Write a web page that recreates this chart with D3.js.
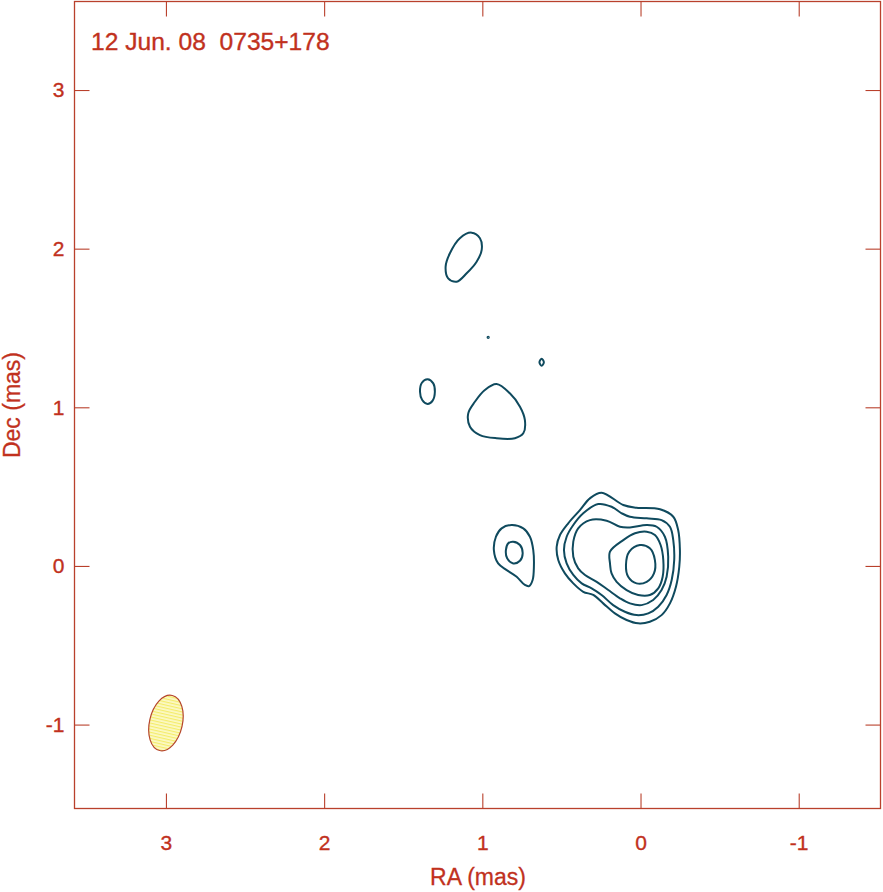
<!DOCTYPE html>
<html>
<head>
<meta charset="utf-8">
<script src="https://cdn.jsdelivr.net/npm/d3@7"></script>
<style>
  body { margin: 0; background: #fff; }
  text { font-family: "Liberation Sans", Arial, Helvetica, sans-serif; fill: #c1311d; }
</style>
</head>
<body>
<svg id="chart" width="883" height="892"></svg>
<script>
// ticks (mas)
var raTicks = [3, 2, 1, 0, -1]
var decTicks = [3, 2, 1, 0, -1]

// core contours, outer to inner, [RA, Dec] in mas
var core1 = [[0.246,0.462],[0.109,0.384],[0.025,0.367],[-0.123,0.357],[-0.207,0.310],[-0.238,0.226],[-0.249,0.100],[-0.245,-0.005],[-0.224,-0.131],[-0.186,-0.236],[-0.133,-0.310],[-0.059,-0.352],[0.015,-0.362],[0.088,-0.341],[0.162,-0.299],[0.236,-0.236],[0.299,-0.183],[0.362,-0.163],[0.425,-0.110],[0.478,-0.047],[0.520,0.037],[0.530,0.121],[0.509,0.195],[0.457,0.269],[0.383,0.352],[0.320,0.426]]
var core2 = [[0.267,0.390],[0.183,0.373],[0.119,0.332],[0.067,0.310],[-0.039,0.300],[-0.133,0.289],[-0.186,0.247],[-0.207,0.163],[-0.213,0.037],[-0.197,-0.089],[-0.165,-0.183],[-0.112,-0.257],[-0.049,-0.299],[0.025,-0.310],[0.099,-0.289],[0.173,-0.247],[0.246,-0.183],[0.309,-0.141],[0.372,-0.110],[0.425,-0.057],[0.467,0.016],[0.484,0.100],[0.467,0.184],[0.425,0.258],[0.362,0.332]]
var core3 = [[0.320,0.289],[0.214,0.285],[0.130,0.247],[0.067,0.243],[-0.039,0.258],[-0.102,0.247],[-0.154,0.184],[-0.175,0.058],[-0.165,-0.068],[-0.133,-0.152],[-0.080,-0.215],[-0.007,-0.247],[0.067,-0.236],[0.130,-0.204],[0.204,-0.152],[0.277,-0.100],[0.351,-0.057],[0.394,-0.015],[0.425,0.058],[0.425,0.153],[0.394,0.237]]
var core4 = [[0.193,0.090],[0.109,0.163],[0.035,0.206],[-0.039,0.216],[-0.091,0.195],[-0.127,0.132],[-0.144,0.037],[-0.140,-0.068],[-0.112,-0.141],[-0.059,-0.183],[0.015,-0.183],[0.088,-0.152],[0.151,-0.100],[0.183,-0.047],[0.193,0.016]]
var core5 = [[0.004,0.132],[-0.059,0.111],[-0.091,0.037],[-0.085,-0.047],[-0.039,-0.100],[0.025,-0.110],[0.078,-0.068],[0.092,0.006],[0.071,0.090]]

// knot east of the core
var knotA1 = [[0.815,0.258],[0.741,0.237],[0.699,0.184],[0.678,0.100],[0.674,-0.005],[0.682,-0.089],[0.704,-0.127],[0.731,-0.120],[0.783,-0.068],[0.846,-0.026],[0.900,0.016],[0.927,0.100],[0.914,0.184],[0.878,0.237]]
var knotA2 = [[0.805,0.153],[0.762,0.132],[0.745,0.079],[0.762,0.033],[0.805,0.016],[0.843,0.048],[0.851,0.100],[0.836,0.143]]

// jet features further out
var knotB = [[0.910,1.147],[0.826,1.088],[0.762,1.004],[0.731,0.920],[0.741,0.836],[0.794,0.805],[0.910,0.805],[1.015,0.825],[1.078,0.878],[1.089,0.962],[1.047,1.035],[0.984,1.109]]
var knotC = [[1.346,1.177],[1.310,1.151],[1.300,1.098],[1.314,1.042],[1.346,1.021],[1.380,1.046],[1.394,1.098],[1.382,1.155]]
var knotD = [[1.068,2.101],[1.015,2.066],[1.004,1.992],[1.036,1.918],[1.099,1.845],[1.162,1.792],[1.216,1.813],[1.232,1.887],[1.205,1.971],[1.142,2.066]]
var knotE = [[0.625,1.306],[0.611,1.284],[0.625,1.262],[0.639,1.284]]
var knotF = [[0.963,1.445],[0.959,1.441],[0.963,1.437],[0.967,1.441]]

var contours = [core1, core2, core3, core4, core5, knotA1, knotA2, knotB, knotC, knotD, knotE, knotF]

// restoring beam: centre RA, Dec, semi-axes (mas), position angle (deg)
var beam = { ra: 3.0, dec: -0.99, major: 0.178, minor: 0.104, pa: 13 }

var title = "12 Jun. 08  0735+178"

var svg = d3.select("#chart")
var red = "#b9402c"

var x = d3.scaleLinear().domain([3.578, -1.517]).range([74.5, 880.5])
var y = d3.scaleLinear().domain([-1.529, 3.558]).range([808.5, 1.5])

// beam hatching
var pat = svg.append("defs").append("pattern")
    .attr("id", "hatch")
    .attr("patternUnits", "userSpaceOnUse")
    .attr("width", 6).attr("height", 3)
pat.append("rect").attr("width", 6).attr("height", 3).attr("fill", "#fcf9c8")
pat.append("rect").attr("width", 6).attr("height", 1.2).attr("fill", "#f4ec6a")

// frame
svg.append("rect")
    .attr("x", 74.5).attr("y", 1.5)
    .attr("width", 806).attr("height", 807)
    .attr("fill", "none")
    .attr("stroke", red)
    .attr("stroke-width", 1.3)

var tickLen = 15

svg.append("g").attr("transform", "translate(0,808.5)")
    .call(d3.axisBottom(x).tickValues(raTicks).tickSize(-tickLen).tickPadding(26.5).tickFormat(d => String(d)))
svg.append("g").attr("transform", "translate(0,1.5)")
    .call(d3.axisTop(x).tickValues(raTicks).tickSize(-tickLen).tickFormat(""))
svg.append("g").attr("transform", "translate(74.5,0)")
    .call(d3.axisLeft(y).tickValues(decTicks).tickSize(-tickLen).tickPadding(10).tickFormat(d => String(d)))
svg.append("g").attr("transform", "translate(880.5,0)")
    .call(d3.axisRight(y).tickValues(decTicks).tickSize(-tickLen).tickFormat(""))

svg.selectAll(".domain").remove()
svg.selectAll(".tick line").attr("stroke", red).attr("stroke-width", 1.1)
svg.selectAll(".tick text")
    .attr("font-size", 21)
    .attr("font-family", "Liberation Sans, Arial, sans-serif")
    .attr("fill", "#c1311d")
    .attr("stroke", "#c1311d")
    .attr("stroke-width", 0.35)

// contours
var line = d3.line()
    .x(d => x(d[0]))
    .y(d => y(d[1]))
    .curve(d3.curveCatmullRomClosed.alpha(0.5))

svg.append("g").selectAll("path")
    .data(contours)
    .join("path")
    .attr("d", line)
    .attr("fill", "none")
    .attr("stroke", "#0f4a5e")
    .attr("stroke-width", 2)

// beam
var rx = x(beam.ra - beam.minor) - x(beam.ra)
var ry = y(beam.dec) - y(beam.dec + beam.major)
svg.append("ellipse")
    .attr("cx", x(beam.ra)).attr("cy", y(beam.dec))
    .attr("rx", rx).attr("ry", ry)
    .attr("transform", `rotate(${beam.pa},${x(beam.ra)},${y(beam.dec)})`)
    .attr("fill", "url(#hatch)")
    .attr("stroke", "#b5452c")
    .attr("stroke-width", 1.2)

// labels
svg.append("text")
    .attr("x", 91).attr("y", 50)
    .attr("font-size", 24.6)
    .attr("stroke", "#c1311d")
    .attr("stroke-width", 0.35)
    .style("white-space", "pre")
    .text(title)

svg.append("text")
    .attr("x", 478).attr("y", 885)
    .attr("text-anchor", "middle")
    .attr("font-size", 23)
    .attr("stroke", "#c1311d")
    .attr("stroke-width", 0.3)
    .text("RA (mas)")

svg.append("text")
    .attr("transform", "translate(20,405) rotate(-90)")
    .attr("text-anchor", "middle")
    .attr("font-size", 23)
    .attr("stroke", "#c1311d")
    .attr("stroke-width", 0.3)
    .text("Dec (mas)")
</script>
</body>
</html>
